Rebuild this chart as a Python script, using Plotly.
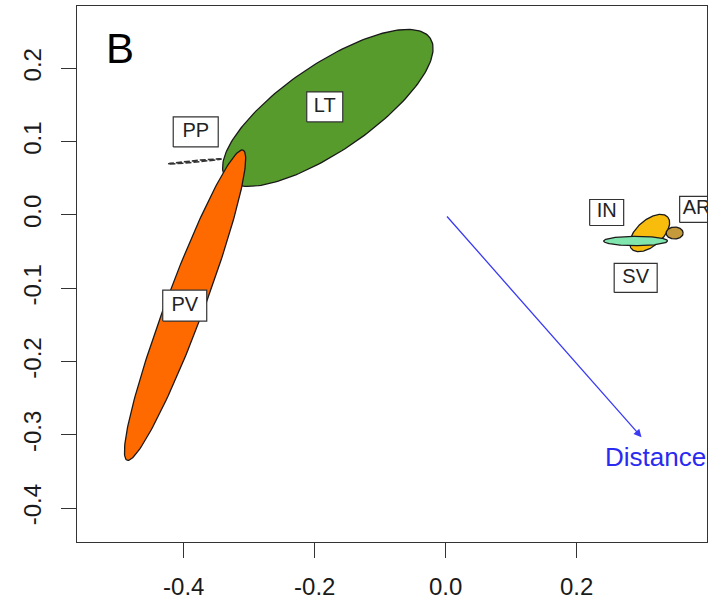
import numpy as np
import plotly.graph_objects as go

# ---------------- data ----------------
groups = ["PP", "LT", "PV", "IN", "SV", "AR"]
# ellipse centres
center_x = [-0.3832, -0.180, -0.398, 0.3115, 0.290, 0.3496]
center_y = [0.0730, 0.146, -0.123, -0.0246, -0.0355, -0.0246]
# first and second semi-axis vectors (data units)
axis1_x = [0.0412, 0.1563, 0.0885, 0.0275, 0.0489, 0.013]
axis1_y = [0.0034, 0.0952, 0.2115, 0.0218, 0.0, 0.0]
axis2_x = [0.0, 0.0375, 0.0272, 0.0131, 0.0, 0.0]
axis2_y = [0.0012, -0.0490, -0.00907, -0.0132, 0.0064, 0.0082]

# label positions
label_text = ["PP", "LT", "PV", "IN", "SV", "AR"]
label_x = [-0.3817, -0.1847, -0.3985, 0.2458, 0.2901, 0.3832]
label_y = [0.1132, 0.1473, -0.1235, 0.0034, -0.0859, 0.0075]

# environmental vector
vector_name = "Distance"
vector_x = 0.299
vector_y = -0.303

x_ticks = [-0.4, -0.2, 0.0, 0.2]
x_ticktext = ["-0.4", "-0.2", "0.0", "0.2"]
y_ticks = [-0.4, -0.3, -0.2, -0.1, 0.0, 0.1, 0.2]
y_ticktext = ["-0.4", "-0.3", "-0.2", "-0.1", "0.0", "0.1", "0.2"]

# ---------------- style ----------------
W, H = 713, 611
ML, MR, MT, MB = 77, 6, 6, 69
XR = [-0.563, 0.399]
YR = [-0.446, 0.285]
px_x = (W - ML - MR) / (XR[1] - XR[0])
px_y = (H - MT - MB) / (YR[1] - YR[0])

fill_colors = {"PP": "rgba(0,0,0,0)", "LT": "#579B2D", "PV": "#FF6A00",
               "IN": "#F7BC0C", "SV": "#80E6AE", "AR": "#C49A3C"}
box_w = {"PP": 45, "LT": 36, "PV": 44, "IN": 34, "SV": 43, "AR": 34}
box_h = {"PP": 30, "LT": 30, "PV": 31, "IN": 26, "SV": 29, "AR": 26}
FONT = "Liberation Sans, Arial, Helvetica, sans-serif"

fig = go.Figure()

t = np.linspace(0, 2 * np.pi, 200)
for i, g in enumerate(groups):
    ex = center_x[i] + axis1_x[i] * np.cos(t) + axis2_x[i] * np.sin(t)
    ey = center_y[i] + axis1_y[i] * np.cos(t) + axis2_y[i] * np.sin(t)
    if g == "PP":
        fig.add_trace(go.Scatter(x=ex, y=ey, mode="lines",
                                 line=dict(color="#333333", width=1.5, dash="6px,2px"),
                                 hoverinfo="skip", showlegend=False))
    else:
        fig.add_trace(go.Scatter(x=ex, y=ey, mode="lines", fill="toself",
                                 fillcolor=fill_colors[g],
                                 line=dict(color="#1a1a1a", width=1.3),
                                 hoverinfo="skip", showlegend=False))

# label boxes
for i, lab in enumerate(label_text):
    dx = box_w[lab] / 2 / px_x
    dy = box_h[lab] / 2 / px_y
    bx = [label_x[i] - dx, label_x[i] + dx, label_x[i] + dx, label_x[i] - dx, label_x[i] - dx]
    by = [label_y[i] - dy, label_y[i] - dy, label_y[i] + dy, label_y[i] + dy, label_y[i] - dy]
    fig.add_trace(go.Scatter(x=bx, y=by, mode="lines", fill="toself", fillcolor="white",
                             line=dict(color="#333333", width=1.2),
                             hoverinfo="skip", showlegend=False))

fig.add_trace(go.Scatter(x=label_x, y=label_y, text=label_text, mode="text",
                         textfont=dict(family=FONT, size=20, color="#222222"),
                         cliponaxis=True, hoverinfo="skip", showlegend=False))

# vector arrow
fig.add_annotation(x=vector_x, y=vector_y, ax=0, ay=0, xref="x", yref="y",
                   axref="x", ayref="y", showarrow=True, arrowhead=2, arrowsize=1.2,
                   arrowwidth=1.3, arrowcolor="#3b3bf2", text="")
fig.add_annotation(x=vector_x, y=vector_y, xref="x", yref="y", text=vector_name,
                   showarrow=False, xanchor="left", yanchor="middle", xshift=-39, yshift=-20,
                   font=dict(family=FONT, size=26, color="#2a2af0"))

# panel letter
fig.add_annotation(x=43 / (W - ML - MR), y=1 - 43 / (H - MT - MB), xref="paper", yref="paper",
                   text="B", showarrow=False, xanchor="center", yanchor="middle",
                   font=dict(family=FONT, size=42, color="black"))

axis_common = dict(showgrid=False, zeroline=False, showline=True, mirror=True,
                   linecolor="#333333", linewidth=1.3, ticks="outside", ticklen=15,
                   tickwidth=1.3, tickcolor="#333333",
                   tickfont=dict(family=FONT, size=24, color="#1a1a1a"))

fig.update_xaxes(range=XR, tickvals=x_ticks, ticktext=x_ticktext,
                 ticklabelstandoff=8, **axis_common)
fig.update_yaxes(range=YR, tickvals=y_ticks, ticktext=y_ticktext, tickangle=-90,
                 ticklabelstandoff=10, **axis_common)

fig.update_layout(width=W, height=H, margin=dict(l=ML, r=MR, t=MT, b=MB),
                  plot_bgcolor="white", paper_bgcolor="white", showlegend=False)

fig.write_html("out.html")
